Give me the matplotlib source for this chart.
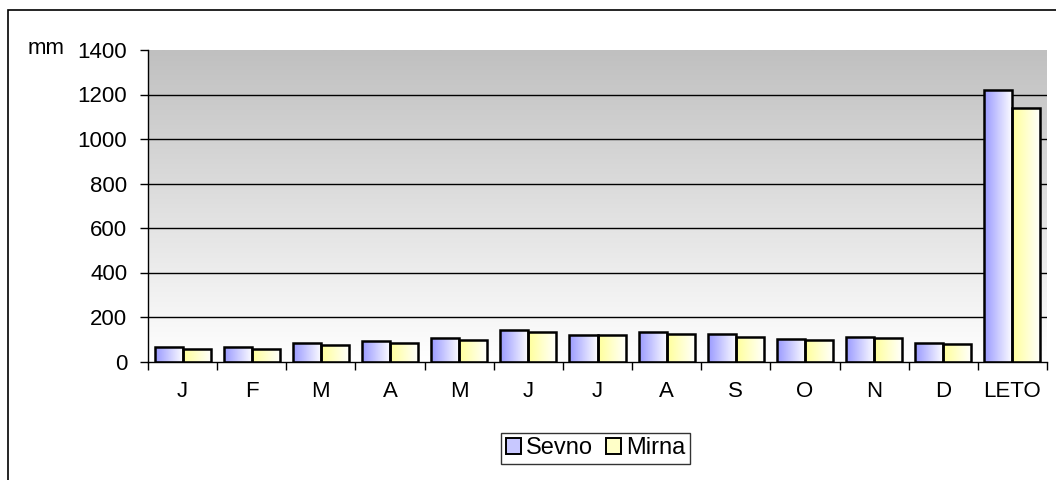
import numpy as np
import matplotlib
matplotlib.use("Agg")
import matplotlib.pyplot as plt
from matplotlib.patches import Rectangle, Patch
from matplotlib.colors import LinearSegmentedColormap

plt.rcParams['font.family'] = ['Liberation Sans', 'DejaVu Sans']

categories = ["J", "F", "M", "A", "M", "J", "J", "A", "S", "O", "N", "D", "LETO"]
sevno = [64, 63, 81, 91, 105, 141, 118, 134, 125, 103, 112, 83, 1218]
mirna = [55, 55, 76, 81, 95, 132, 117, 125, 112, 97, 107, 80, 1138]
series_names = ["Sevno", "Mirna"]
yticks = [0, 200, 400, 600, 800, 1000, 1200, 1400]

FS = 16
W, H = 1056, 480
fig = plt.figure(figsize=(W / 100, H / 100), dpi=100)
fig.patch.set_facecolor("white")

# outer chart border (left and top visible)
fig.add_artist(Rectangle((8 / W, -0.1), 1.2, 1 - 9.5 / H + 0.1, transform=fig.transFigure,
                         fill=False, edgecolor="black", linewidth=1.2))

ax = fig.add_axes([148 / W, 1 - 361.5 / H, (1047 - 148) / W, (361.5 - 50) / H])
ax.set_xlim(-0.5, len(categories) - 0.5)
ax.set_ylim(0, 1400)

# background gradient: gray top to white bottom
grad = np.linspace(0, 1, 256).reshape(-1, 1)
bg_cmap = LinearSegmentedColormap.from_list("bg", ["#ffffff", "#c0c0c0"])
ax.imshow(grad, aspect="auto", cmap=bg_cmap, origin="lower",
          extent=[0, 1, 0, 1], transform=ax.transAxes, zorder=0)

# grid lines
for v in yticks[1:-1]:
    ax.axhline(v, color="black", linewidth=1.0, zorder=1)

x = np.arange(len(categories))
bw = 0.405
hgrad = np.linspace(0, 1, 256).reshape(1, -1)
cmaps = [LinearSegmentedColormap.from_list("b", ["#9999ff", "#ffffff"]),
         LinearSegmentedColormap.from_list("y", ["#ffff99", "#ffffff"])]
for i, (vals, cm) in enumerate(zip([sevno, mirna], cmaps)):
    bars = ax.bar(x + (i - 0.5) * bw, vals, width=bw, facecolor="none",
                  edgecolor="black", linewidth=1.8, zorder=3)
    for b in bars:
        x0, y0 = b.get_x(), b.get_y()
        im = ax.imshow(hgrad, aspect="auto", cmap=cm,
                       extent=[x0, x0 + b.get_width(), y0, y0 + b.get_height()],
                       zorder=2, interpolation="bilinear")
        im.set_clip_path(b)

ax.set_xlim(-0.5, len(categories) - 0.5)
ax.set_ylim(0, 1400)

# spines
for s in ["top", "right"]:
    ax.spines[s].set_visible(False)
ax.spines["left"].set_color("#000000")
ax.spines["bottom"].set_color("#000000")
ax.spines["left"].set_linewidth(1.0)
ax.spines["bottom"].set_linewidth(1.0)

ax.set_yticks(yticks)
ax.set_yticklabels([str(v) for v in yticks], fontsize=FS)
ax.tick_params(axis="y", direction="out", length=6, width=1, pad=9)

ax.set_xticks(np.arange(-0.5, len(categories), 1.0))
ax.set_xticklabels([])
ax.set_xticks(x, minor=True)
ax.set_xticklabels(categories, minor=True, fontsize=FS)
ax.tick_params(axis="x", which="major", direction="out", length=6, width=1)
ax.tick_params(axis="x", which="minor", length=0, pad=14)

fig.text(28 / W, 1 - 48 / H, "mm", fontsize=FS, va="center", ha="left")

handles = [Patch(facecolor="#c8c8ff", edgecolor="black", linewidth=1.4),
           Patch(facecolor="#ffffc8", edgecolor="black", linewidth=1.4)]
leg = fig.legend(handles, series_names, loc="center", bbox_to_anchor=(595.5 / W, 1 - 448.5 / H),
                 ncol=2, fontsize=17, frameon=True, fancybox=False, edgecolor="black",
                 handlelength=0.65, handleheight=0.65, handletextpad=0.2, columnspacing=0.55,
                 borderpad=0.2, borderaxespad=0)
leg.get_frame().set_linewidth(1.0)

fig.savefig("out.png", dpi=100)
